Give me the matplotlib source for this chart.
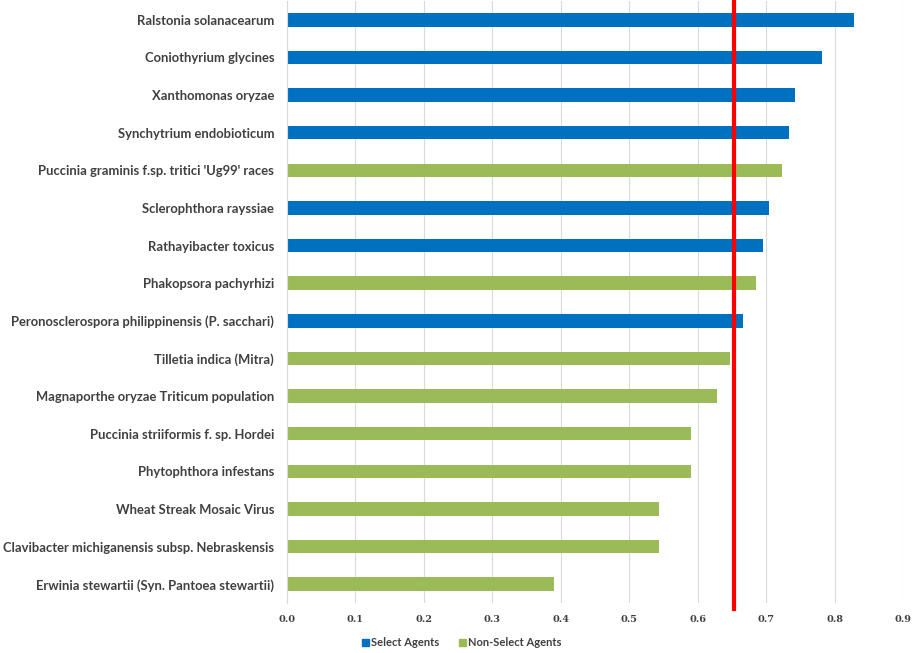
import matplotlib
matplotlib.use("Agg")
import matplotlib.pyplot as plt
from matplotlib.patches import Patch

categories = [
    "Ralstonia solanacearum",
    "Coniothyrium glycines",
    "Xanthomonas oryzae",
    "Synchytrium endobioticum",
    "Puccinia graminis f.sp. tritici 'Ug99' races",
    "Sclerophthora rayssiae",
    "Rathayibacter toxicus",
    "Phakopsora pachyrhizi",
    "Peronosclerospora philippinensis (P. sacchari)",
    "Tilletia indica (Mitra)",
    "Magnaporthe oryzae Triticum population",
    "Puccinia striiformis f. sp. Hordei",
    "Phytophthora infestans",
    "Wheat Streak Mosaic Virus",
    "Clavibacter michiganensis subsp. Nebraskensis",
    "Erwinia stewartii (Syn. Pantoea stewartii)",
]
values = [0.829, 0.781, 0.743, 0.733, 0.724, 0.705, 0.695, 0.686, 0.666,
          0.648, 0.629, 0.591, 0.591, 0.543, 0.543, 0.391]
is_select = [True, True, True, True, False, True, True, False, True,
             False, False, False, False, False, False, False]
threshold = 0.6526
legend_labels = ["Select Agents", "Non-Select Agents"]
xticks = [0.0, 0.1, 0.2, 0.3, 0.4, 0.5, 0.6, 0.7, 0.8, 0.9]

BLUE = "#0070C0"
GREEN = "#9BBB59"
TXT = "#404040"

plt.rcParams['font.family'] = ['Lato', 'DejaVu Sans']

fig = plt.figure(figsize=(9.13, 6.53), dpi=100)
ax = fig.add_axes([286.7/913, (653-603)/653, (903-286.7)/913, (603-1)/653])

ypos = list(range(len(categories)))
colors = [BLUE if s else GREEN for s in is_select]
ax.barh(ypos, values, height=0.36, color=colors, zorder=2)
ax.set_ylim(len(categories) - 0.5, -0.5)
ax.set_yticks(ypos)
ax.set_yticklabels(categories, fontsize=9.4, fontweight='bold', color=TXT)
ax.set_xlim(0, 0.9)
ax.set_xticks(xticks)
ax.set_xticklabels([f"{t:.1f}" for t in xticks], fontsize=7,
                   fontweight='bold', color=TXT, family='DejaVu Serif')
ax.tick_params(axis='both', length=0)
ax.tick_params(axis='y', pad=9)
ax.tick_params(axis='x', pad=9)
ax.grid(axis='x', color='#D9D9D9', linewidth=0.8, zorder=0)
for s in ['top', 'right', 'bottom']:
    ax.spines[s].set_visible(False)
ax.spines['left'].set_color('#D9D9D9')

ax.axvline(threshold, ymin=-0.01, ymax=1.0, color='#FF0000', linewidth=3.0,
           zorder=3, clip_on=False)

handles = [Patch(color=BLUE), Patch(color=GREEN)]
leg = fig.legend(handles, legend_labels, loc='center', ncol=2,
                 bbox_to_anchor=(462/913, 1 - 643/653), frameon=False,
                 handlelength=0.6, handleheight=0.6,
                 handletextpad=0.2, columnspacing=1.8,
                 prop={'weight': 'bold', 'size': 8})
for t in leg.get_texts():
    t.set_color(TXT)

fig.savefig("out.png", dpi=100)
